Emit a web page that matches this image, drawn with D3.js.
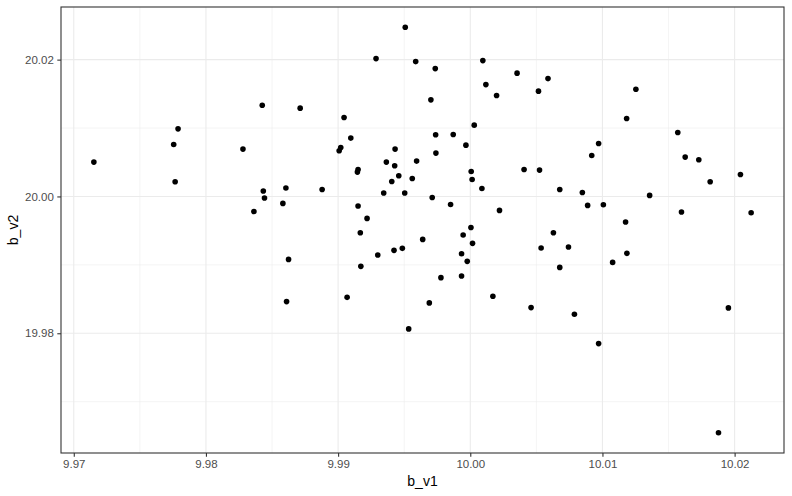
<!DOCTYPE html>
<html>
<head>
<meta charset="utf-8">
<script src="https://cdn.jsdelivr.net/npm/d3@7"></script>
<style>
  html, body { margin: 0; padding: 0; background: #fff; }
  svg { display: block; }
  text { font-family: "Liberation Sans", Arial, Helvetica, sans-serif; }
</style>
</head>
<body>
<svg id="chart" width="792" height="496"></svg>
<script>
const xLabel = "b_v1";
const yLabel = "b_v2";
const xTicks = [9.97, 9.98, 9.99, 10.00, 10.01, 10.02];
const yTicks = [19.98, 20.00, 20.02];
const xMinor = [9.975, 9.985, 9.995, 10.005, 10.015];
const yMinor = [19.97, 19.99, 20.01];

const b_v1 = [
  9.97152, 9.97789, 9.97756, 9.97767, 9.98426, 9.98280, 9.98434, 9.98443, 9.98605, 9.98582,
  9.98363, 9.98625, 9.98610, 9.99508, 9.99287, 9.99587, 9.99735, 10.00095, 10.00118, 10.00199,
  10.00354, 9.99702, 9.98713, 9.99045, 10.00030, 9.99096, 9.99738, 9.99871, 9.99967, 9.99020,
  9.99008, 9.99431, 9.99740, 9.99365, 9.99594, 9.99428, 9.99151, 9.99146, 9.99459, 10.00407,
  10.00007, 10.00014, 9.99561, 9.99406, 9.98879, 9.99345, 9.99504, 10.00088, 9.99712, 9.99151,
  9.99851, 10.00221, 9.99219, 10.00005, 9.99168, 9.99946, 10.00017, 9.99640, 9.99486, 9.99423,
  9.99300, 9.99934, 9.99977, 9.99172, 9.99778, 9.99934, 9.99068, 9.99690, 10.00171, 9.99534,
  10.00588, 10.00516, 10.01253, 10.01183, 10.01570, 10.00971, 10.00919, 10.01626, 10.01729, 10.02044,
  10.01815, 10.00524, 10.00677, 10.00848, 10.01357, 10.00888, 10.01007, 10.01598, 10.02125, 10.01175,
  10.00629, 10.00536, 10.00743, 10.01185, 10.01077, 10.00677, 10.00460, 10.00788, 10.01953, 10.00971,
  10.01878
];
const b_v2 = [
  20.00502, 20.00988, 20.00759, 20.00215, 20.01334, 20.00692, 20.00079, 19.99977, 20.00123, 19.99898,
  19.99781, 19.99080, 19.98463, 20.02473, 20.02015, 20.01971, 20.01869, 20.01986, 20.01635, 20.01475,
  20.01802, 20.01412, 20.01291, 20.01153, 20.01042, 20.00853, 20.00901, 20.00905, 20.00750, 20.00715,
  20.00667, 20.00692, 20.00634, 20.00502, 20.00517, 20.00448, 20.00394, 20.00356, 20.00302, 20.00394,
  20.00365, 20.00248, 20.00263, 20.00219, 20.00102, 20.00050, 20.00050, 20.00117, 19.99985, 19.99860,
  19.99883, 19.99796, 19.99679, 19.99547, 19.99470, 19.99436, 19.99314, 19.99372, 19.99241, 19.99212,
  19.99144, 19.99163, 19.99051, 19.98978, 19.98813, 19.98838, 19.98525, 19.98444, 19.98540, 19.98064,
  20.01723, 20.01539, 20.01568, 20.01139, 20.00934, 20.00774, 20.00599, 20.00575, 20.00536, 20.00321,
  20.00215, 20.00385, 20.00102, 20.00058, 20.00015, 19.99869, 19.99879, 19.99772, 19.99762, 19.99626,
  19.99470, 19.99247, 19.99261, 19.99168, 19.99036, 19.98963, 19.98375, 19.98277, 19.98371, 19.97849,
  19.96546
];

const points = b_v1.map((v, i) => ({ x: v, y: b_v2[i] }));

const W = 792, H = 496;
const m = { left: 61, right: 8, top: 7, bottom: 43 };
const pw = W - m.left - m.right, ph = H - m.top - m.bottom;

function expand(ext, f) { const d = (ext[1] - ext[0]) * f; return [ext[0] - d, ext[1] + d]; }

const x = d3.scaleLinear().domain(expand(d3.extent(b_v1), 0.05)).range([m.left, m.left + pw]);
const y = d3.scaleLinear().domain(expand(d3.extent(b_v2), 0.05)).range([m.top + ph, m.top]);

const svg = d3.select("#chart");
svg.append("rect").attr("width", W).attr("height", H).attr("fill", "#fff");

const grid = svg.append("g");
grid.selectAll(".xm").data(xMinor).enter().append("line")
  .attr("x1", d => x(d)).attr("x2", d => x(d)).attr("y1", m.top).attr("y2", m.top + ph)
  .attr("stroke", "#EBEBEB").attr("stroke-width", 0.55);
grid.selectAll(".ym").data(yMinor).enter().append("line")
  .attr("y1", d => y(d)).attr("y2", d => y(d)).attr("x1", m.left).attr("x2", m.left + pw)
  .attr("stroke", "#EBEBEB").attr("stroke-width", 0.55);
grid.selectAll(".xM").data(xTicks).enter().append("line")
  .attr("x1", d => x(d)).attr("x2", d => x(d)).attr("y1", m.top).attr("y2", m.top + ph)
  .attr("stroke", "#EBEBEB").attr("stroke-width", 1.1);
grid.selectAll(".yM").data(yTicks).enter().append("line")
  .attr("y1", d => y(d)).attr("y2", d => y(d)).attr("x1", m.left).attr("x2", m.left + pw)
  .attr("stroke", "#EBEBEB").attr("stroke-width", 1.1);

svg.append("g").selectAll("circle").data(points).enter().append("circle")
  .attr("cx", d => x(d.x)).attr("cy", d => y(d.y)).attr("r", 2.8).attr("fill", "#000");

svg.append("rect").attr("x", m.left).attr("y", m.top).attr("width", pw).attr("height", ph)
  .attr("fill", "none").attr("stroke", "#333333").attr("stroke-width", 1.1);

const xAxis = d3.axisBottom(x).tickValues(xTicks).tickSize(3.7).tickPadding(3.5)
  .tickFormat(d3.format(".2f"));
const gx = svg.append("g").attr("transform", `translate(0,${m.top + ph})`).call(xAxis);
gx.select(".domain").remove();
gx.selectAll(".tick line").attr("stroke", "#333333").attr("stroke-width", 1.1);
gx.selectAll(".tick text").attr("fill", "#4D4D4D").style("font-size", "11.5px")
  .style("font-family", '"Liberation Sans", Arial, sans-serif');

const yAxis = d3.axisLeft(y).tickValues(yTicks).tickSize(3.7).tickPadding(3.5)
  .tickFormat(d3.format(".2f"));
const gy = svg.append("g").attr("transform", `translate(${m.left},0)`).call(yAxis);
gy.select(".domain").remove();
gy.selectAll(".tick line").attr("stroke", "#333333").attr("stroke-width", 1.1);
gy.selectAll(".tick text").attr("fill", "#4D4D4D").style("font-size", "11.5px")
  .style("font-family", '"Liberation Sans", Arial, sans-serif');

svg.append("text").attr("x", m.left + pw / 2).attr("y", 486)
  .attr("text-anchor", "middle").attr("fill", "#000").style("font-size", "14px")
  .text(xLabel);
svg.append("text").attr("transform", `translate(18,${m.top + ph / 2}) rotate(-90)`)
  .attr("text-anchor", "middle").attr("fill", "#000").style("font-size", "14px")
  .text(yLabel);
</script>
</body>
</html>
